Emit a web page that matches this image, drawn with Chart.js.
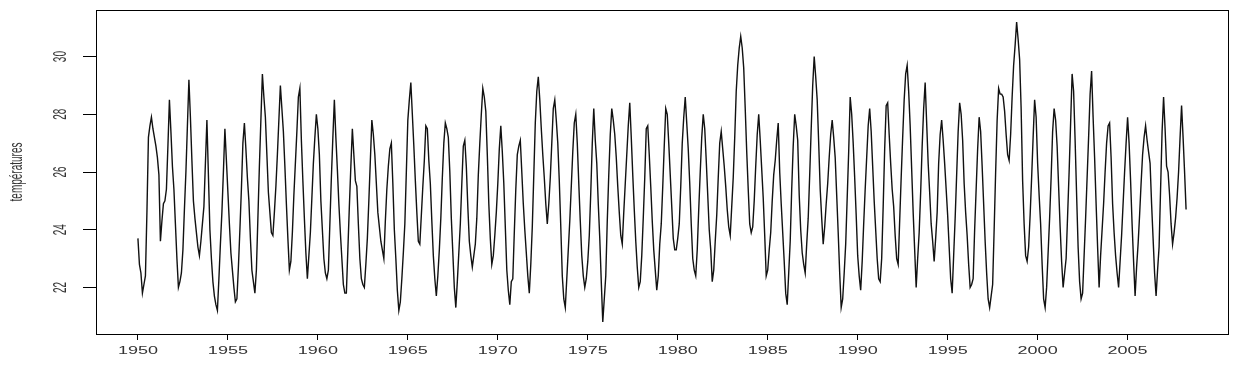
<!DOCTYPE html>
<html>
<head>
<meta charset="utf-8">
<script src="https://cdn.jsdelivr.net/npm/chart.js@4"></script>
<style>
  html, body { margin: 0; padding: 0; background: #fff; }
  #wrap { width: 1242px; height: 369px; }
</style>
</head>
<body>
<div id="wrap"><canvas id="tempChart" width="1242" height="369"></canvas></div>
<script>
// monthly series
const startYear = 1950
const perYear = 12
const temperatures = [
  23.7, 22.8, 22.5, 21.8, 22.1, 22.4, 24.6, 27.2, 27.6, 27.9, 27.5, 27.2,
  26.9, 26.5, 25.9, 23.6, 24.3, 24.9, 25.0, 25.4, 26.9, 28.5, 27.4, 26.2,
  25.4, 24.2, 23.0, 22.0, 22.2, 22.5, 23.3, 24.7, 26.0, 27.6, 29.2, 27.9,
  26.4, 25.0, 24.4, 23.9, 23.4, 23.1, 23.6, 24.2, 24.8, 26.3, 27.8, 25.9,
  24.0, 23.0, 22.2, 21.7, 21.4, 21.2, 22.3, 23.5, 24.6, 26.0, 27.5, 26.4,
  25.3, 24.2, 23.2, 22.6, 22.0, 21.5, 21.6, 22.7, 24.0, 25.4, 27.0, 27.7,
  26.8, 25.8, 25.0, 23.7, 22.6, 22.2, 21.8, 22.6, 24.4, 26.2, 27.8, 29.4,
  28.6, 27.9, 26.6, 25.3, 24.6, 23.9, 23.8, 24.6, 25.5, 26.6, 27.8, 29.0,
  28.2, 27.4, 26.2, 24.9, 23.7, 22.6, 22.9, 23.9, 25.2, 26.3, 27.4, 28.6,
  28.9, 27.1, 25.7, 24.4, 23.2, 22.3, 23.1, 23.9, 25.1, 26.3, 27.2, 28.0,
  27.5, 26.6, 25.0, 24.0, 23.0, 22.5, 22.3, 22.6, 24.2, 25.8, 27.2, 28.5,
  27.2, 26.1, 24.9, 23.9, 23.0, 22.1, 21.8, 21.8, 23.3, 24.8, 26.2, 27.5,
  26.6, 25.7, 25.5, 24.2, 23.0, 22.3, 22.1, 22.0, 22.8, 23.7, 25.0, 26.4,
  27.8, 27.3, 26.6, 25.6, 24.6, 24.1, 23.6, 23.3, 23.0, 24.3, 25.4, 26.2,
  26.8, 27.0, 25.6, 24.0, 23.0, 21.9, 21.2, 21.5, 22.3, 23.2, 24.2, 26.0,
  27.8, 28.5, 29.1, 28.0, 26.9, 25.7, 24.6, 23.6, 23.5, 24.5, 25.5, 26.4,
  27.6, 27.5, 26.4, 25.6, 24.3, 23.1, 22.3, 21.7, 22.4, 23.3, 24.4, 25.8,
  27.0, 27.7, 27.5, 27.2, 26.0, 24.4, 23.2, 22.0, 21.3, 22.2, 23.2, 24.2,
  25.6, 26.9, 27.1, 26.2, 24.8, 23.6, 23.1, 22.7, 23.1, 23.5, 24.4, 25.9,
  27.0, 28.0, 28.9, 28.6, 28.1, 26.6, 24.9, 23.7, 22.8, 23.1, 23.8, 24.6,
  25.6, 26.8, 27.6, 26.7, 25.6, 24.1, 22.6, 21.9, 21.4, 22.2, 22.3, 23.9,
  25.4, 26.6, 26.9, 27.1, 26.0, 24.9, 24.0, 23.2, 22.4, 21.8, 22.8, 24.1,
  25.9, 27.7, 28.8, 29.3, 28.5, 27.5, 26.6, 25.8, 24.9, 24.2, 24.9, 25.8,
  27.0, 28.2, 28.5, 27.8, 27.0, 25.7, 24.1, 22.4, 21.6, 21.3, 22.3, 23.3,
  24.3, 25.5, 26.7, 27.7, 28.0, 27.0, 25.6, 24.3, 23.1, 22.4, 22.0, 22.3,
  22.9, 23.8, 25.3, 27.0, 28.2, 27.1, 26.3, 24.9, 23.7, 22.2, 20.8, 21.6,
  22.4, 24.3, 25.9, 27.3, 28.2, 27.8, 27.3, 26.5, 25.5, 24.6, 23.8, 23.5,
  24.6, 25.6, 26.6, 27.6, 28.4, 27.2, 25.9, 24.7, 23.6, 22.7, 22.0, 22.2,
  23.1, 24.4, 25.8, 27.5, 27.6, 26.6, 25.5, 24.3, 23.3, 22.6, 21.9, 22.4,
  23.5, 24.2, 25.5, 26.9, 28.2, 28.0, 27.0, 25.9, 24.8, 23.7, 23.3, 23.3,
  23.7, 24.2, 25.5, 27.0, 27.9, 28.6, 27.7, 26.8, 25.6, 24.2, 23.0, 22.6,
  22.4, 23.3, 24.7, 26.0, 27.2, 28.0, 27.5, 26.4, 25.2, 24.0, 23.3, 22.2,
  22.6, 23.6, 24.5, 25.8, 27.0, 27.4, 26.8, 26.2, 25.5, 24.7, 24.1, 23.8,
  24.8, 25.8, 27.2, 28.8, 29.7, 30.3, 30.7, 30.3, 29.6, 28.2, 26.7, 25.4,
  24.2, 23.9, 24.1, 25.0, 26.2, 27.3, 28.0, 27.1, 26.1, 25.1, 23.8, 22.4,
  22.6, 23.3, 23.9, 25.0, 25.9, 26.4, 27.1, 27.7, 26.0, 24.9, 23.9, 22.9,
  21.8, 21.4, 22.5, 23.6, 25.4, 26.9, 28.0, 27.6, 27.1, 25.2, 24.0, 23.2,
  22.8, 22.5, 23.5, 24.4, 25.9, 27.5, 29.0, 30.0, 29.3, 28.5, 27.0, 25.4,
  24.4, 23.5, 24.1, 24.9, 25.6, 26.5, 27.3, 27.8, 27.2, 26.5, 25.2, 23.9,
  22.5, 21.3, 21.6, 22.5, 23.5, 25.1, 26.7, 28.6, 28.0, 27.0, 25.8, 24.5,
  23.1, 22.4, 21.9, 22.9, 24.2, 25.4, 26.5, 27.6, 28.2, 27.4, 26.2, 25.0,
  24.0, 23.0, 22.3, 22.2, 23.0, 24.8, 26.8, 28.3, 28.4, 27.3, 26.3, 25.4,
  24.8, 23.8, 23.0, 22.8, 24.3, 25.8, 27.2, 28.5, 29.4, 29.7, 28.8, 27.6,
  26.1, 24.6, 23.3, 22.0, 23.0, 23.9, 25.3, 26.9, 28.2, 29.1, 27.7, 26.3,
  25.3, 24.2, 23.6, 22.9, 23.7, 24.6, 26.3, 27.3, 27.8, 27.1, 26.3, 25.4,
  24.5, 23.4, 22.3, 21.8, 23.1, 24.4, 25.9, 27.4, 28.4, 28.0, 27.1, 25.6,
  24.6, 23.8, 22.8, 22.0, 22.1, 22.3, 24.0, 25.4, 26.8, 27.9, 27.4, 26.2,
  24.9, 23.6, 22.5, 21.6, 21.3, 21.7, 22.1, 24.0, 26.0, 27.8, 28.9, 28.7,
  28.7, 28.6, 28.1, 27.3, 26.6, 26.4, 27.3, 28.6, 29.7, 30.4, 31.2, 30.6,
  29.9, 28.2, 25.7, 24.2, 23.1, 22.9, 23.4, 24.5, 25.8, 27.2, 28.5, 27.9,
  26.3, 25.2, 24.2, 22.8, 21.6, 21.3, 22.0, 23.2, 24.4, 25.8, 27.4, 28.2,
  27.8, 26.9, 25.5, 24.1, 22.9, 22.0, 22.5, 23.0, 24.5, 26.0, 27.7, 29.4,
  28.8, 27.1, 25.2, 23.4, 22.2, 21.6, 21.8, 23.1, 24.4, 25.8, 27.2, 28.7,
  29.5, 27.9, 26.5, 24.9, 23.4, 22.0, 23.1, 24.0, 24.9, 26.0, 27.0, 27.6,
  27.7, 26.5, 24.9, 23.9, 23.1, 22.5, 22.0, 22.9, 23.8, 24.9, 26.0, 27.0,
  27.9, 27.0, 25.7, 24.2, 22.9, 21.7, 22.7, 23.5, 24.5, 25.6, 26.6, 27.2,
  27.6, 27.1, 26.7, 26.3, 24.9, 23.7, 22.5, 21.7, 22.6, 23.4, 25.4, 27.4,
  28.6, 27.5, 26.2, 26.0, 25.2, 24.2, 23.5, 23.9, 24.4, 25.1, 26.0, 27.2,
  28.3, 27.2, 26.0, 24.7
]
const yearTicks = [1950, 1955, 1960, 1965, 1970, 1975, 1980, 1985, 1990, 1995, 2000, 2005]
const tempTicks = [22, 24, 26, 28, 30]
const yTitle = 'températures'

const points = temperatures.map((t, i) => ({ x: startYear + i / perYear, y: t }))

// R pads the data range by 4% on each side
function rRange(lo, hi) {
  const pad = (hi - lo) * 0.04
  return [lo - pad, hi + pad]
}
const xLim = rRange(startYear, startYear + (temperatures.length - 1) / perYear)
const yLim = rRange(Math.min(...temperatures), Math.max(...temperatures))

const stretch = 1.8 // the picture is widened, text too
const axisFont = '10px "Liberation Sans", Arial, sans-serif'

const rAxes = {
  id: 'rAxes',
  afterDraw(chart) {
    const ctx = chart.ctx
    const a = chart.chartArea
    const xs = chart.scales.x
    const ys = chart.scales.y
    ctx.save()
    ctx.strokeStyle = '#000'
    ctx.lineWidth = 1
    ctx.strokeRect(Math.round(a.left) + 0.5, Math.round(a.top) + 0.5,
      Math.round(a.right - a.left), Math.round(a.bottom - a.top))

    ctx.fillStyle = '#333'
    ctx.font = axisFont
    ctx.textAlign = 'center'
    ctx.textBaseline = 'middle'
    yearTicks.forEach(yr => {
      ctx.save()
      ctx.translate(xs.getPixelForValue(yr), a.bottom + 17)
      ctx.scale(stretch, 1)
      ctx.fillText(String(yr), 0, 0)
      ctx.restore()
    })
    tempTicks.forEach(t => {
      ctx.save()
      ctx.translate(a.left - 35, ys.getPixelForValue(t))
      ctx.scale(stretch, 1)
      ctx.rotate(-Math.PI / 2)
      ctx.fillText(String(t), 0, 0)
      ctx.restore()
    })
    ctx.save()
    ctx.translate(a.left - 79, (a.top + a.bottom) / 2)
    ctx.scale(stretch, 1)
    ctx.rotate(-Math.PI / 2)
    ctx.fillText(yTitle, 0, 0)
    ctx.restore()
    ctx.restore()
  }
}

const ctx = document.getElementById('tempChart').getContext('2d')
let tempChart = new Chart(ctx, {
  type: 'line',
  data: {
    datasets: [
      {
        label: yTitle,
        data: points,
        borderColor: '#111',
        borderWidth: 1.4,
        pointRadius: 0,
        tension: 0,
        fill: false,
      },
    ],
  },
  options: {
    responsive: false,
    animation: false,
    devicePixelRatio: 1,
    layout: {
      padding: { left: 83, right: 14, top: 10, bottom: 29 },
    },
    plugins: {
      legend: { display: false },
      tooltip: { enabled: false },
    },
    scales: {
      x: {
        type: 'linear',
        min: xLim[0],
        max: xLim[1],
        afterBuildTicks: (axis) => {
          axis.ticks = yearTicks.map((v) => ({ value: v }))
        },
        ticks: { display: false },
        border: { display: false },
        grid: { drawOnChartArea: false, drawTicks: true, tickLength: 6, color: '#000' },
      },
      y: {
        type: 'linear',
        min: yLim[0],
        max: yLim[1],
        afterBuildTicks: (axis) => {
          axis.ticks = tempTicks.map((v) => ({ value: v }))
        },
        ticks: { display: false },
        border: { display: false },
        grid: { drawOnChartArea: false, drawTicks: true, tickLength: 13, color: '#000' },
      },
    },
  },
  plugins: [rAxes],
})
</script>
</body>
</html>
